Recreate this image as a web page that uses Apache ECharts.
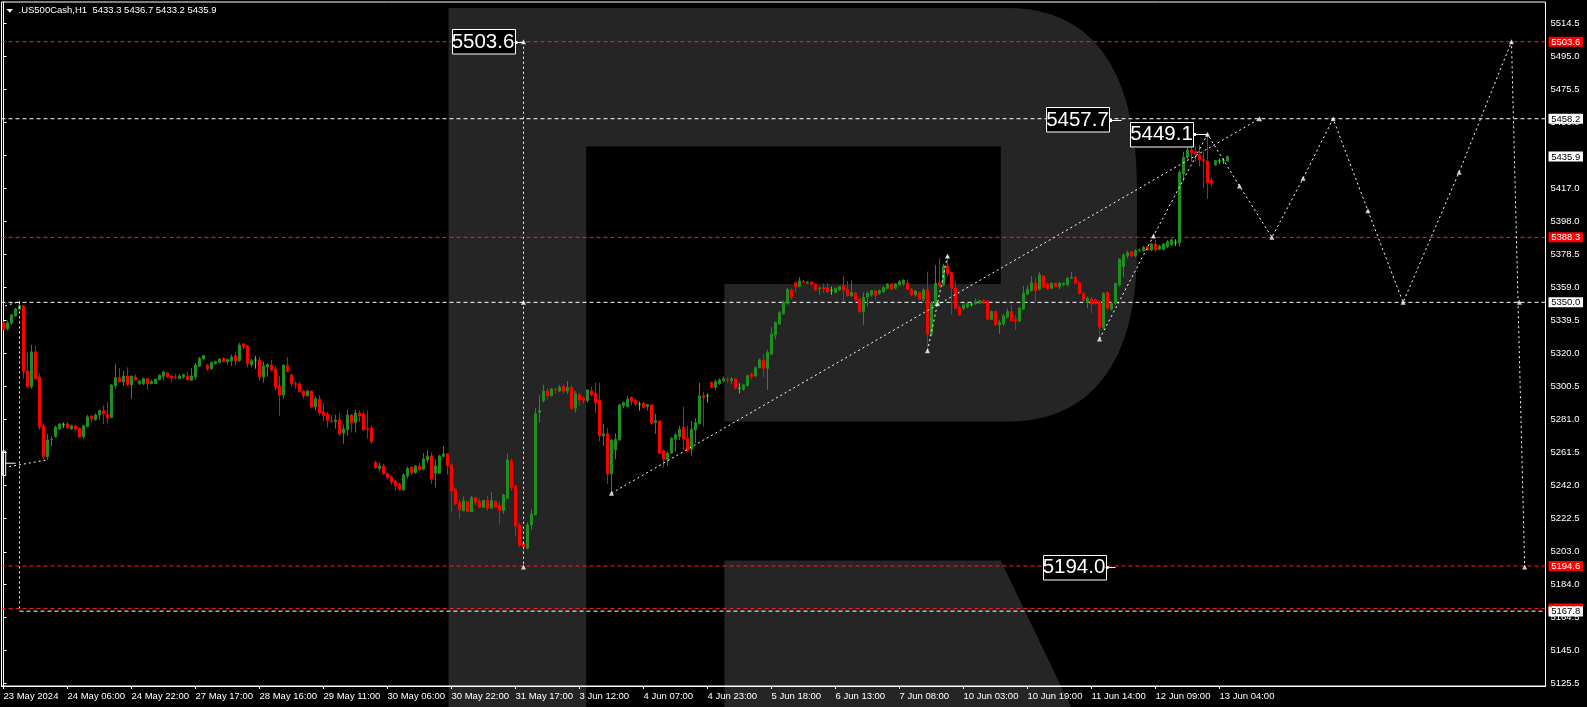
<!DOCTYPE html>
<html>
<head>
<meta charset="utf-8">
<script src="https://cdn.jsdelivr.net/npm/echarts@6/dist/echarts.min.js"></script>
<style>
html,body{margin:0;padding:0;background:#000;}
#c{width:1587px;height:707px;}
</style>
</head>
<body>
<div id="c"></div>
<script>
// ---------------- data ----------------
const slotCount = 386;          // bar slots incl. empty forecast area
const labelStep = 16;           // bars between time labels
const timeLabels = ["23 May 2024","24 May 06:00","24 May 22:00","27 May 17:00","28 May 16:00","29 May 11:00","30 May 06:00","30 May 22:00","31 May 17:00","3 Jun 12:00","4 Jun 07:00","4 Jun 23:00","5 Jun 18:00","6 Jun 13:00","7 Jun 08:00","10 Jun 03:00","10 Jun 19:00","11 Jun 14:00","12 Jun 09:00","13 Jun 04:00"];
const priceTicks = [5125.5,5145.0,5164.5,5184.0,5203.0,5222.5,5242.0,5261.5,5281.0,5300.5,5320.0,5339.5,5359.0,5378.5,5398.0,5417.0,5436.5,5456.0,5475.5,5495.0,5514.5];
const titleText = ".US500Cash,H1  5433.3 5436.7 5433.2 5435.9";

// [open, high, low, close]
const bars = [
[5338.0,5338.6,5333.7,5334.1],[5334.5,5339.2,5333.3,5338.0],[5337.7,5343.2,5336.9,5342.6],[5342.0,5346.7,5341.6,5346.1],[5345.9,5351.0,5345.5,5348.3],
[5347.9,5348.3,5305.0,5309.2],[5309.6,5320.4,5299.9,5300.3],[5300.3,5324.9,5299.1,5320.8],[5320.8,5324.5,5304.6,5305.0],[5306.0,5308.2,5274.8,5276.7],
[5277.1,5278.7,5257.7,5259.1],[5259.1,5272.4,5257.1,5268.9],[5269.2,5271.2,5265.0,5269.3],[5270.8,5277.3,5270.3,5276.5],[5275.4,5278.9,5274.8,5278.3],
[5278.1,5279.3,5276.1,5278.1],[5278.3,5279.5,5275.6,5276.1],[5275.4,5277.9,5274.8,5277.3],[5277.1,5277.5,5274.0,5275.4],[5275.8,5276.2,5270.3,5270.6],
[5270.8,5277.9,5269.7,5277.3],[5276.7,5283.6,5276.3,5282.6],[5282.8,5283.8,5279.1,5281.5],[5280.7,5284.6,5280.3,5283.6],[5283.6,5286.8,5280.7,5286.2],
[5286.2,5289.3,5278.3,5284.2],[5284.0,5291.3,5278.7,5281.8],[5282.0,5301.9,5281.8,5301.3],[5300.7,5313.7,5299.1,5305.6],[5305.6,5311.3,5303.1,5303.1],
[5303.1,5309.6,5300.7,5306.6],[5306.6,5311.7,5301.1,5301.3],[5301.3,5306.6,5293.1,5306.6],[5306.0,5307.6,5303.9,5304.3],[5302.1,5304.3,5301.3,5303.5],
[5301.9,5305.6,5301.3,5305.0],[5305.0,5305.0,5298.4,5301.9],[5302.1,5304.4,5301.7,5303.3],[5302.1,5304.8,5302.1,5304.8],[5304.3,5307.2,5304.3,5307.2],
[5306.4,5309.9,5304.1,5309.0],[5308.4,5309.0,5305.4,5306.2],[5306.6,5307.2,5303.1,5305.4],[5306.0,5307.8,5304.6,5305.6],[5305.0,5307.8,5304.8,5306.6],
[5306.0,5308.0,5305.0,5307.4],[5306.6,5309.0,5304.3,5304.3],[5304.1,5311.3,5303.7,5306.6],[5306.2,5314.3,5304.3,5313.1],[5312.3,5317.8,5311.9,5317.0],
[5316.6,5319.0,5316.2,5318.6],[5312.9,5313.9,5309.7,5310.9],[5310.9,5315.1,5310.3,5314.5],[5313.9,5315.6,5313.3,5315.1],[5314.5,5317.2,5314.1,5316.6],
[5316.8,5317.6,5314.7,5315.1],[5315.1,5316.8,5313.3,5316.2],[5315.5,5319.2,5312.5,5317.8],[5318.4,5320.8,5312.7,5315.5],[5315.6,5326.1,5314.9,5324.9],
[5325.5,5326.1,5322.5,5323.7],[5324.3,5324.5,5311.7,5313.7],[5313.3,5316.6,5311.7,5315.6],[5316.0,5318.4,5310.9,5316.0],[5316.0,5317.8,5303.9,5306.0],
[5306.0,5315.1,5302.7,5312.5],[5311.9,5314.1,5306.2,5313.3],[5313.1,5316.0,5309.2,5310.1],[5310.7,5312.5,5298.2,5300.1],[5300.7,5306.4,5283.2,5295.4],
[5295.4,5313.1,5293.2,5313.1],[5312.7,5317.8,5309.0,5309.2],[5307.2,5308.0,5300.3,5302.1],[5302.1,5303.7,5299.1,5301.7],[5301.9,5303.1,5297.2,5297.4],
[5297.6,5298.4,5293.2,5294.8],[5295.0,5298.2,5294.4,5297.8],[5297.8,5298.2,5287.5,5288.3],[5288.3,5294.4,5286.2,5293.2],[5293.0,5295.4,5283.4,5285.0],
[5285.4,5290.7,5279.9,5283.2],[5284.2,5285.4,5276.2,5280.5],[5280.1,5283.4,5279.1,5279.7],[5279.7,5283.8,5275.6,5280.7],[5280.7,5284.8,5271.4,5272.6],
[5273.0,5277.9,5266.7,5275.4],[5275.0,5286.8,5271.4,5283.6],[5283.6,5284.2,5273.6,5279.1],[5279.1,5286.6,5273.2,5284.8],[5284.8,5286.2,5279.5,5283.0],
[5284.2,5285.8,5274.0,5275.0],[5275.6,5286.2,5269.7,5275.2],[5276.0,5277.7,5266.7,5267.9],[5255.5,5256.7,5251.8,5252.6],[5252.0,5255.5,5250.6,5253.6],
[5253.6,5254.9,5248.4,5249.0],[5249.0,5249.6,5245.5,5246.7],[5247.1,5247.9,5242.6,5244.1],[5244.7,5245.3,5239.2,5241.9],[5243.0,5243.7,5238.8,5239.9],
[5239.5,5249.3,5239.1,5248.3],[5247.7,5253.2,5246.1,5252.2],[5252.8,5253.6,5248.3,5249.7],[5249.7,5254.0,5248.9,5253.6],[5253.6,5255.2,5250.7,5251.3],
[5251.7,5261.1,5250.9,5257.7],[5257.1,5262.7,5255.2,5259.5],[5259.5,5261.5,5243.0,5245.9],[5249.3,5257.5,5240.8,5253.6],[5249.3,5260.1,5248.9,5259.5],
[5259.1,5265.4,5259.1,5260.7],[5260.7,5261.1,5248.3,5253.8],[5254.2,5255.2,5226.1,5238.9],[5239.9,5240.4,5230.6,5231.2],[5232.0,5233.6,5222.6,5227.7],
[5227.1,5235.5,5227.1,5233.0],[5232.6,5233.0,5226.5,5226.7],[5226.7,5235.9,5226.5,5234.9],[5234.9,5235.5,5230.4,5232.2],[5232.6,5234.5,5228.9,5229.2],
[5229.2,5233.6,5228.9,5233.2],[5233.2,5235.9,5227.3,5228.7],[5228.7,5238.3,5228.1,5233.2],[5232.6,5233.2,5228.9,5229.4],[5230.2,5232.6,5219.0,5227.3],
[5227.3,5237.1,5225.3,5236.5],[5234.5,5260.7,5233.9,5257.1],[5256.6,5257.9,5238.9,5241.0],[5241.8,5242.4,5212.0,5218.2],[5218.8,5220.2,5205.7,5207.0],
[5208.0,5209.0,5203.0,5206.1],[5205.1,5220.2,5204.5,5218.8],[5218.8,5228.1,5215.9,5225.3],[5224.7,5287.6,5224.7,5284.3],[5285.1,5295.4,5279.2,5286.2],
[5292.1,5301.4,5290.9,5297.8],[5297.8,5299.4,5292.9,5294.9],[5294.9,5299.4,5294.5,5299.0],[5298.6,5300.0,5296.1,5298.2],[5297.8,5301.4,5297.0,5300.0],
[5300.4,5301.4,5296.1,5297.8],[5297.8,5303.7,5296.1,5299.8],[5299.8,5301.4,5286.6,5287.6],[5287.6,5297.8,5285.1,5296.1],[5295.5,5296.8,5289.0,5292.5],
[5293.5,5294.5,5290.0,5292.1],[5292.1,5298.8,5290.9,5298.4],[5297.8,5300.4,5294.5,5295.5],[5296.4,5302.7,5284.7,5290.9],[5292.5,5302.7,5268.0,5271.3],
[5271.3,5278.4,5265.4,5272.5],[5272.5,5275.8,5243.0,5248.9],[5248.9,5269.3,5237.5,5268.9],[5263.0,5272.9,5257.5,5269.3],[5268.9,5290.2,5268.5,5289.6],
[5289.0,5291.5,5287.6,5290.9],[5288.6,5294.9,5288.2,5292.9],[5293.9,5294.5,5289.4,5291.5],[5292.1,5293.3,5289.0,5290.2],[5290.0,5291.5,5286.2,5290.0],
[5290.6,5290.9,5287.4,5288.0],[5288.6,5290.0,5286.2,5289.6],[5289.6,5290.0,5278.4,5278.8],[5279.2,5284.3,5272.5,5280.3],[5280.1,5280.3,5260.7,5261.1],
[5262.5,5263.4,5252.6,5257.7],[5257.5,5262.1,5253.6,5261.1],[5261.1,5270.5,5260.7,5269.9],[5269.3,5272.9,5262.1,5271.9],[5270.9,5277.2,5268.9,5275.2],
[5276.4,5288.6,5263.0,5269.3],[5269.9,5277.2,5262.1,5262.5],[5263.4,5280.1,5259.5,5275.2],[5274.8,5281.7,5267.0,5279.2],[5278.4,5302.7,5278.4,5294.9],
[5294.9,5297.4,5276.8,5293.9],[5294.9,5296.4,5290.9,5294.9],[5302.7,5303.3,5299.4,5300.0],[5300.0,5304.7,5298.4,5303.3],[5302.0,5305.3,5301.4,5304.3],
[5303.9,5306.3,5302.7,5304.9],[5304.5,5305.7,5302.7,5304.1],[5303.9,5305.9,5302.0,5304.9],[5304.9,5305.2,5298.8,5299.4],[5299.4,5302.3,5296.4,5299.4],
[5298.8,5302.0,5298.0,5301.4],[5300.8,5307.3,5300.4,5306.7],[5307.6,5308.4,5304.5,5306.2],[5306.6,5312.1,5305.8,5311.5],[5311.5,5317.0,5311.1,5316.1],
[5315.7,5319.6,5305.8,5311.1],[5311.1,5322.0,5298.4,5320.4],[5319.4,5335.3,5319.0,5331.2],[5330.8,5338.7,5328.2,5338.1],[5337.3,5345.1,5336.7,5344.0],
[5343.2,5351.0,5342.8,5350.1],[5349.1,5358.3,5349.1,5357.7],[5357.3,5358.3,5351.8,5353.0],[5361.6,5362.2,5355.8,5359.3],[5359.3,5364.8,5358.9,5362.6],
[5362.2,5363.2,5361.3,5361.8],[5361.3,5362.6,5360.9,5362.0],[5362.0,5362.2,5359.7,5360.7],[5360.7,5361.3,5356.9,5357.3],[5358.1,5359.3,5354.4,5358.5],
[5358.7,5361.3,5355.4,5357.9],[5358.7,5361.3,5355.4,5356.1],[5356.9,5359.3,5354.4,5356.9],[5355.8,5358.9,5355.4,5358.3],[5357.3,5359.7,5356.9,5359.3],
[5359.9,5365.6,5350.5,5357.3],[5357.7,5362.6,5353.4,5354.0],[5353.8,5362.8,5353.4,5355.8],[5355.4,5356.3,5351.0,5351.4],[5352.0,5353.0,5343.6,5344.6],
[5344.6,5355.8,5336.7,5353.0],[5353.0,5356.3,5347.5,5355.4],[5354.4,5357.3,5353.4,5356.9],[5356.7,5357.3,5351.4,5354.0],[5355.4,5357.7,5354.4,5356.9],
[5356.3,5359.3,5355.4,5358.9],[5358.3,5361.3,5357.7,5360.7],[5360.7,5361.3,5357.3,5357.7],[5358.3,5361.3,5357.7,5360.9],[5360.3,5363.2,5359.3,5362.2],
[5360.9,5363.6,5359.7,5363.0],[5361.3,5363.6,5357.3,5357.7],[5357.7,5358.3,5353.8,5354.4],[5354.4,5357.3,5353.4,5356.7],[5355.8,5356.3,5351.4,5351.8],
[5351.8,5358.3,5350.5,5357.3],[5357.3,5368.1,5321.4,5331.4],[5331.4,5350.5,5329.8,5349.5],[5348.1,5372.1,5347.5,5361.3],[5361.6,5376.0,5359.3,5359.7],
[5360.3,5372.7,5359.3,5371.5],[5371.5,5376.0,5365.2,5367.2],[5367.5,5368.1,5342.6,5358.3],[5358.3,5362.2,5345.9,5346.5],[5346.9,5347.9,5342.0,5342.6],
[5346.5,5349.5,5345.5,5348.5],[5347.5,5350.5,5346.5,5349.5],[5348.9,5350.3,5347.5,5348.9],[5349.1,5352.4,5348.5,5350.5],[5349.5,5351.4,5349.1,5351.0],
[5351.0,5351.8,5349.1,5349.9],[5350.8,5351.4,5339.6,5340.0],[5340.0,5345.1,5339.6,5344.6],[5344.6,5345.1,5336.1,5336.7],[5336.7,5339.6,5331.4,5338.1],
[5337.3,5343.2,5336.1,5342.0],[5341.2,5346.5,5340.6,5344.6],[5344.6,5348.5,5338.7,5339.2],[5340.2,5342.6,5333.7,5339.0],[5339.0,5347.5,5338.7,5346.5],
[5346.1,5359.7,5345.5,5355.4],[5354.8,5360.3,5354.4,5357.7],[5356.9,5365.6,5356.3,5361.6],[5361.3,5364.6,5350.5,5356.9],[5357.7,5368.1,5356.9,5366.2],
[5365.6,5366.2,5358.3,5358.9],[5360.9,5361.6,5357.3,5357.9],[5358.3,5361.6,5357.7,5361.3],[5361.3,5361.6,5358.9,5359.3],[5359.3,5362.2,5357.7,5361.3],
[5360.3,5361.6,5359.7,5361.3],[5360.3,5364.8,5359.3,5364.2],[5364.2,5368.1,5363.6,5364.8],[5364.6,5365.6,5360.7,5361.3],[5361.6,5362.2,5354.4,5355.4],
[5355.4,5355.8,5349.5,5351.4],[5349.9,5353.4,5346.5,5352.4],[5352.0,5353.4,5343.6,5349.1],[5351.4,5352.4,5348.5,5349.5],[5350.5,5351.0,5329.2,5335.3],
[5335.3,5355.8,5334.1,5355.4],[5355.8,5356.3,5345.5,5346.5],[5346.1,5350.5,5345.1,5349.5],[5349.5,5361.6,5348.5,5361.3],[5360.3,5376.0,5359.3,5375.4],
[5371.1,5378.9,5364.8,5377.9],[5377.4,5380.5,5376.0,5379.3],[5379.9,5380.3,5376.6,5377.4],[5377.4,5381.3,5376.6,5380.5],[5380.7,5381.7,5379.9,5381.0],
[5380.5,5383.3,5379.9,5382.5],[5382.8,5383.6,5380.3,5380.9],[5380.9,5385.0,5380.3,5384.4],[5384.4,5386.8,5379.9,5380.9],[5381.3,5384.0,5380.7,5383.2],
[5381.3,5385.0,5380.7,5384.4],[5382.8,5386.8,5381.9,5385.8],[5383.8,5387.6,5383.2,5386.8],[5385.2,5387.2,5383.2,5385.2],[5385.2,5428.0,5382.8,5426.5],
[5425.7,5438.8,5421.2,5435.5],[5435.5,5444.1,5434.3,5439.8],[5439.8,5448.1,5432.9,5438.2],[5438.8,5441.8,5432.9,5437.5],[5436.9,5442.8,5430.0,5433.9],
[5434.3,5438.8,5417.2,5433.5],[5433.3,5449.1,5410.9,5420.6],[5421.7,5423.7,5418.2,5420.2],[5431.0,5433.9,5430.4,5433.5],[5433.3,5434.9,5431.6,5433.3],
[5433.3,5434.9,5431.6,5433.3],[5433.3,5436.7,5433.2,5435.9]
];

const redLevels = [5503.6, 5388.3, 5194.6, 5169.5];
const whiteLevels = [5458.2, 5350.0];
const partialWhiteLevel = { fromSlot: 4, value: 5168.0 };

// price tags on the right scale
const axisTags = [
  { value: 5503.6, text: "5503.6", kind: "red" },
  { value: 5458.2, text: "5458.2", kind: "white" },
  { value: 5435.9, text: "5435.9", kind: "white" },
  { value: 5388.3, text: "5388.3", kind: "red" },
  { value: 5350.0, text: "5350.0", kind: "white" },
  { value: 5194.6, text: "5194.6", kind: "red" },
  { value: 5169.5, text: "5169.5", kind: "red" },
  { value: 5167.8, text: "5167.8", kind: "white" }
];

// forecast paths [slot, price]
const forecastPaths = [
  [[130, 5503.6], [130, 5194.0]],
  [[152, 5237.5], [314, 5458.2]],
  [[231, 5321.4], [236, 5377.3]],
  [[274, 5328.4], [287.5, 5389.1], [301, 5449.1], [309, 5418.6], [317.1, 5388.3], [324.9, 5423.1], [332.4, 5458.2], [341.1, 5404.0], [349.9, 5350.0], [363.9, 5426.7], [377, 5503.6], [380.3, 5194.0]],
  [[0.4, 5347.9], [4, 5350.5], [4, 5168.0]],
  [[1.4, 5253.2], [10.8, 5257.1]]
];
const forecastMarkers = [
  [130, 5503.6], [130, 5350.0], [130, 5194.0], [152, 5237.5], [314, 5458.2],
  [231, 5321.4], [233.5, 5349.3], [236, 5377.3],
  [274, 5328.4], [287.5, 5389.1], [301, 5449.1], [309, 5418.6], [317.1, 5388.3], [324.9, 5423.1],
  [332.4, 5458.2], [341.1, 5404.0], [349.9, 5350.0], [363.9, 5426.7], [377, 5503.6], [379, 5350.0], [380.3, 5194.0]
];
const forecastLabels = [
  { text: "5503.6", slot: 130, price: 5503.6, gap: 9 },
  { text: "5457.7", slot: 279.5, price: 5457.7, gap: 12.5 },
  { text: "5449.1", slot: 301, price: 5449.1, gap: 14.5 },
  { text: "5194.0", slot: 278, price: 5194.0, gap: 10 }
];

// ---------------- chart ----------------
const FONT = "'Liberation Sans', Arial, sans-serif";
const isLabelSlot = i => i % labelStep === 0 && i / labelStep < timeLabels.length;
const categories = Array.from({ length: slotCount }, (_, i) => String(i));

const chart = echarts.init(document.getElementById('c'), null, { renderer: 'canvas' });

const series = [];
series.push({
  type: 'candlestick', xAxisIndex: 0, yAxisIndex: 0, z: 5,
  barWidth: 2,
  data: bars.map(b => [b[0], b[3], b[2], b[1]]),
  itemStyle: {
    color: '#1f8f1f', color0: '#ff0000',
    borderColor: '#1f8f1f', borderColor0: '#ff0000',
    borderColorDoji: '#00ff00', borderWidth: 1
  },
  silent: true
});
redLevels.forEach(v => series.push({
  type: 'line', xAxisIndex: 1, yAxisIndex: 0, z: 3, symbol: 'none', silent: true,
  data: [[-0.5, v], [slotCount - 0.5, v]],
  lineStyle: { color: '#ff1e28', width: 1, type: [4, 3] }
}));
whiteLevels.forEach(v => series.push({
  type: 'line', xAxisIndex: 1, yAxisIndex: 0, z: 3, symbol: 'none', silent: true,
  data: [[-0.5, v], [slotCount - 0.5, v]],
  lineStyle: { color: '#ffffff', width: 1, type: [4, 3] }
}));
series.push({
  type: 'line', xAxisIndex: 1, yAxisIndex: 0, z: 3, symbol: 'none', silent: true,
  data: [[partialWhiteLevel.fromSlot, partialWhiteLevel.value], [slotCount - 0.5, partialWhiteLevel.value]],
  lineStyle: { color: '#ffffff', width: 1, type: [4, 3] }
});
forecastPaths.forEach(p => series.push({
  type: 'line', xAxisIndex: 1, yAxisIndex: 0, z: 6, symbol: 'none', silent: true,
  data: p,
  lineStyle: { color: '#ffffff', width: 1, type: [2, 3] }
}));
series.push({
  type: 'scatter', xAxisIndex: 1, yAxisIndex: 0, z: 7, silent: true,
  symbol: 'triangle', symbolSize: 5,
  itemStyle: { color: '#ffffff' },
  data: forecastMarkers
});

chart.setOption({
  backgroundColor: '#000000',
  animation: false,
  grid: {
    left: 1.5, right: 41.5, top: 2, bottom: 21,
    show: true, borderColor: '#ffffff', borderWidth: 1, backgroundColor: 'transparent',
    outerBoundsMode: 'none', containLabel: false
  },
  xAxis: [{
    type: 'category', data: categories, boundaryGap: true, position: 'bottom',
    axisLine: { show: true, lineStyle: { color: '#ffffff', width: 1 } },
    axisTick: { show: true, alignWithLabel: true, length: 3, interval: (i) => isLabelSlot(i), lineStyle: { color: '#ffffff' } },
    axisLabel: {
      show: true, interval: (i) => isLabelSlot(i), hideOverlap: false,
      formatter: (v, i) => isLabelSlot(i) ? timeLabels[i / labelStep] : '',
      align: 'left', color: '#ffffff', fontSize: 9.5, fontFamily: FONT, margin: 5
    },
    splitLine: { show: false }
  }, {
    type: 'value', min: -0.5, max: slotCount - 0.5, show: false, gridIndex: 0
  }],
  yAxis: [{
    type: 'value', position: 'right', min: 5123.9, max: 5527.0, scale: true,
    axisLine: { show: true, lineStyle: { color: '#ffffff', width: 1 } },
    axisTick: { show: true, customValues: priceTicks, length: 3, inside: false, lineStyle: { color: '#ffffff' } },
    axisLabel: {
      show: true, customValues: priceTicks, formatter: v => Number(v).toFixed(1),
      color: '#ffffff', fontSize: 9.5, fontFamily: FONT, margin: 5, hideOverlap: false
    },
    splitLine: { show: false }
  }],
  series: series
});

// ------------- decorations & computed tags -------------
function cubic(p0, p1, p2, p3, n) {
  const pts = [];
  for (let k = 1; k <= n; k++) {
    const t = k / n, u = 1 - t;
    pts.push([
      u*u*u*p0[0] + 3*u*u*t*p1[0] + 3*u*t*t*p2[0] + t*t*t*p3[0],
      u*u*u*p0[1] + 3*u*u*t*p1[1] + 3*u*t*t*p2[1] + t*t*t*p3[1]
    ]);
  }
  return pts;
}
// watermark "R" outline (decoration, pixel space)
const rPts = [[448.5, 8], [1008, 8]]
  .concat(cubic([1008, 8], [1085, 8], [1137, 60], [1137, 190], 24))
  .concat([[1137, 250]])
  .concat(cubic([1137, 250], [1137, 370], [1085, 421.5], [1008, 421.5], 24))
  .concat([[724.4, 421.5], [724.4, 284], [1000.8, 284], [1000.8, 146.5], [586.2, 146.5], [586.2, 707], [448.5, 707]]);

const elements = [];
elements.push({ type: 'polygon', z: -10, silent: true, shape: { points: rPts }, style: { fill: '#252525' } });
elements.push({ type: 'polygon', z: -10, silent: true, shape: { points: [[724.4, 560.4], [1000.8, 560.4], [1071, 707], [724.4, 707]] }, style: { fill: '#252525' } });
// title
elements.push({ type: 'polygon', z: 20, shape: { points: [[6.5, 9], [13, 9], [9.75, 12.7]] }, style: { fill: '#ffffff' } });
elements.push({
  type: 'text', z: 20, x: 18.5, y: 10.8,
  style: { text: titleText, fill: '#ffffff', font: "9.5px " + FONT, textVerticalAlign: 'middle', textAlign: 'left' }
});

// tags on the price scale
axisTags.forEach(t => {
  const y = chart.convertToPixel({ yAxisIndex: 0 }, t.value);
  const red = t.kind === 'red';
  elements.push({
    type: 'rect', z: 30, shape: { x: 1548.5, y: y - 5, width: 34.5, height: 10 },
    style: { fill: red ? '#ff0000' : '#ffffff' }
  });
  elements.push({
    type: 'text', z: 31, x: 1565.7, y: y + 0.3,
    style: { text: t.text, fill: red ? '#ffffff' : '#000000', font: "9.5px " + FONT, textAlign: 'center', textVerticalAlign: 'middle' }
  });
});

// forecast price labels
forecastLabels.forEach(l => {
  const p = chart.convertToPixel({ xAxisIndex: 1, yAxisIndex: 0 }, [l.slot, l.price]);
  const right = p[0] - l.gap;
  const w = 63, h = 24.5;
  elements.push({
    type: 'rect', z: 25, shape: { x: Math.round(right - w) + 0.5, y: Math.round(p[1] - h / 2) + 0.5, width: w, height: h },
    style: { fill: '#000000', stroke: '#ffffff', lineWidth: 1 }
  });
  elements.push({
    type: 'text', z: 26, x: right - w / 2, y: p[1] + 0.5,
    style: { text: l.text, fill: '#ffffff', font: "20.5px " + FONT, textAlign: 'center', textVerticalAlign: 'middle' }
  });
  elements.push({
    type: 'line', z: 26, shape: { x1: right, y1: Math.round(p[1]) + 0.5, x2: p[0], y2: Math.round(p[1]) + 0.5 },
    style: { stroke: '#ffffff', lineWidth: 1 }
  });
  elements.push({ type: 'rect', z: 26, shape: { x: right + 0.5, y: Math.round(p[1]) - 1, width: 2.5, height: 3 }, style: { fill: '#ffffff' } });
});

// small cut label box at left edge
(function () {
  const a = chart.convertToPixel({ xAxisIndex: 1, yAxisIndex: 0 }, [-0.2, 5262.4]);
  const b = chart.convertToPixel({ xAxisIndex: 1, yAxisIndex: 0 }, [0.55, 5247.9]);
  const c = chart.convertToPixel({ xAxisIndex: 1, yAxisIndex: 0 }, [3.05, 5255.2]);
  elements.push({ type: 'rect', z: 25, shape: { x: a[0], y: a[1], width: b[0] - a[0], height: b[1] - a[1] }, style: { fill: 'none', stroke: '#ffffff', lineWidth: 1 } });
  elements.push({ type: 'line', z: 25, shape: { x1: b[0], y1: c[1], x2: c[0], y2: c[1] }, style: { stroke: '#ffffff', lineWidth: 1 } });
})();

chart.setOption({ graphic: { elements: elements } });
</script>
</body>
</html>
